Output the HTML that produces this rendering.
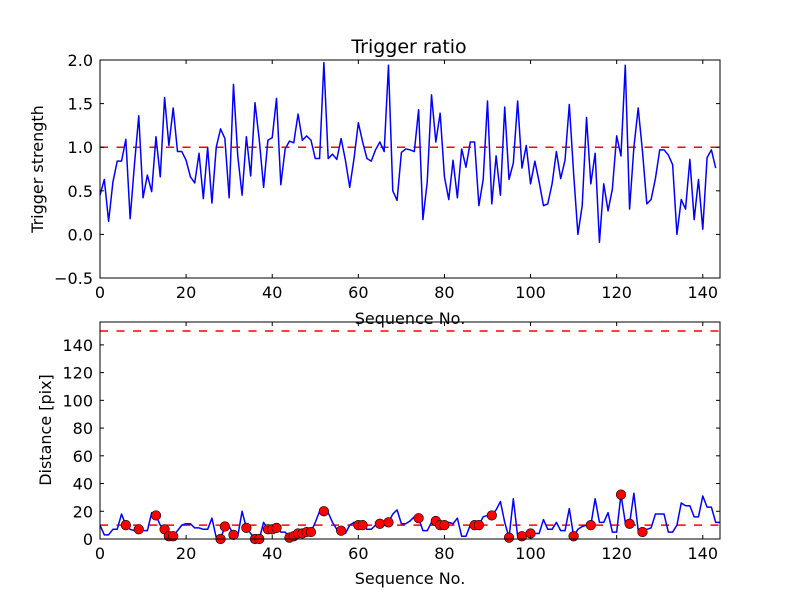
<!DOCTYPE html>
<html><head><meta charset="utf-8"><style>
html,body{margin:0;padding:0;background:#fff;}
svg text{font-family:"DejaVu Sans","Liberation Sans",sans-serif;fill:#000;}
</style></head><body>
<svg id="chart" width="800" height="600" viewBox="0 0 800 600" xmlns="http://www.w3.org/2000/svg">
<rect width="800" height="600" fill="#fff"/>
</svg>
<script>
const xTicks=[0,20,40,60,80,100,120,140];
const topYTicks=[-0.5,0.0,0.5,1.0,1.5,2.0];
const topYLabels=["\u22120.5","0.0","0.5","1.0","1.5","2.0"];
const botYTicks=[0,20,40,60,80,100,120,140];
const triggerStrength=[0.45,0.63,0.15,0.6,0.84,0.84,1.09,0.18,0.8,1.36,0.42,0.68,0.49,1.12,0.66,1.57,1.02,1.45,0.95,0.95,0.85,0.66,0.59,0.93,0.41,1.0,0.36,1.0,1.21,1.1,0.42,1.72,0.9,0.45,1.12,0.67,1.51,1.08,0.54,1.08,1.11,1.56,0.57,0.98,1.07,1.05,1.38,1.08,1.13,
1.08,0.87,0.87,1.97,0.87,0.92,0.86,1.1,0.85,0.54,0.87,1.28,1.06,0.87,0.84,0.97,1.06,0.95,1.94,0.5,0.39,0.94,0.98,0.97,0.95,1.43,0.17,0.6,1.6,1.06,1.39,0.66,0.4,0.85,0.42,0.98,0.77,1.06,1.06,0.33,0.63,1.53,0.35,0.9,0.45,1.46,
0.63,0.82,1.53,0.76,1.02,0.58,0.84,0.6,0.33,0.35,0.58,0.95,0.64,0.85,1.49,0.7,0.0,0.33,1.34,0.58,0.93,-0.09,0.58,0.27,0.52,1.13,0.9,1.94,0.29,1.0,1.45,0.95,0.35,0.4,0.64,0.97,0.97,0.91,0.8,0.0,0.4,0.29,0.86,0.17,0.63,0.06,0.88,0.97,0.76];
const distance=[10,3,3,7,7,18,10,7,6,7,6,6,19,17,10,7,2,2,6,10,11,11,8,8,7,7,15,1,0,9,9,3,2,20,8,4,0,0,12,7,7,8,5,5,1,2,4,4,5,5,
12,20,20,19,12,7,6,4,10,12,10,10,7,7,10,11,12,12,18,21,11,11,13,16,15,6,6,12,13,10,10,12,11,15,2,2,10,10,10,16,17,17,21,27,12,1,
29,2,2,4,4,4,4,14,7,7,12,6,6,22,2,7,9,10,10,29,12,12,19,5,5,32,12,11,33,6,5,7,8,18,18,18,5,5,10,26,24,24,16,16,31,23,23,12,12];
const markerIdx=[6,9,13,15,16,17,28,29,31,34,36,37,39,40,41,44,45,46,47,48,49,52,56,60,61,65,67,74,78,79,80,87,88,91,95,98,100,110,114,121,123,126];
const topThreshold=[1.0];
const botThresholds=[10,150];

const NS="http://www.w3.org/2000/svg";
const svg=document.getElementById('chart');
function mk(tag,attrs,parent){const e=document.createElementNS(NS,tag);for(const k in attrs)e.setAttribute(k,attrs[k]);(parent||svg).appendChild(e);return e;}
const L=100,R=720;
const xS=v=>L+(v/144)*(R-L);
const T1=60,B1=278;
const y1=v=>B1-(v+0.5)/2.5*(B1-T1);
const T2=322,B2=539;
const y2=v=>B2-(v/156.5)*(B2-T2);

function axes(name,T,B,yt,ylab,yfn){
  const g=mk('g',{});
  
  
  xTicks.forEach(t=>{
    const x=xS(t);
    mk('line',{x1:x,x2:x,y1:B,y2:B-4,stroke:'#000','stroke-width':1},g);
    mk('line',{x1:x,x2:x,y1:T,y2:T+4,stroke:'#000','stroke-width':1},g);
    const tx=mk('text',{x:x,y:B+20,'text-anchor':'middle','font-size':16},g);
    
    
    tx.textContent=t;
  });
  yt.forEach((t,i)=>{
    const y=yfn(t);
    mk('line',{x1:L,x2:L+4,y1:y,y2:y,stroke:'#000','stroke-width':1},g);
    mk('line',{x1:R,x2:R-4,y1:y,y2:y,stroke:'#000','stroke-width':1},g);
    const tx=mk('text',{x:L-7,y:y+6,'text-anchor':'end','font-size':16},g);
    
    
    tx.textContent=ylab[i];
  });
}
function frame(name,T,B){
  const r=mk('rect',{x:L,y:T,width:R-L,height:B-T,fill:'none',stroke:'#000','stroke-width':1});
  
  
}
function lineFrom(name,arr,yfn){
  const p=mk('polyline',{points:arr.map((v,i)=>xS(i)+','+yfn(v)).join(' '),fill:'none',stroke:'#0000ff','stroke-width':1.5,'stroke-linejoin':'round'});
  
  
}
function hline(name,v,yfn){
  const l=mk('line',{x1:L,x2:R,y1:yfn(v),y2:yfn(v),stroke:'#ff0000','stroke-width':1.5,'stroke-dasharray':'8,8.5'});
  
  
}
function label(name,txt,x,y,size,rot){
  const t=mk('text',{x:x,y:y,'text-anchor':'middle','font-size':size});
  if(rot)t.setAttribute('transform','rotate(-90 '+x+' '+y+')');
  
  
  t.textContent=txt;
}

topThreshold.forEach(v=>hline('threshold-line-top',v,y1));
lineFrom('trigger-strength-line',triggerStrength,y1);
frame('top-plot-frame',T1,B1);
axes('top-axes',T1,B1,topYTicks,topYLabels,y1);
label('top-chart-title','Trigger ratio',409,53,19);
label('top-y-axis-title','Trigger strength',43,169,16,true);
label('top-x-axis-title','Sequence No.',410,324,16);

botThresholds.forEach(v=>hline('threshold-line-bottom',v,y2));
lineFrom('distance-line',distance,y2);
markerIdx.forEach(i=>{
  const c=mk('circle',{cx:xS(i),cy:y2(distance[i]),r:4.8,fill:'#ff0000',stroke:'#000','stroke-width':0.6});
  
  
});
frame('bottom-plot-frame',T2,B2);
axes('bottom-axes',T2,B2,botYTicks,botYTicks.map(String),y2);
label('bottom-y-axis-title','Distance [pix]',51,430,16,true);
label('bottom-x-axis-title','Sequence No.',410,584,16);
</script>
</body></html>
